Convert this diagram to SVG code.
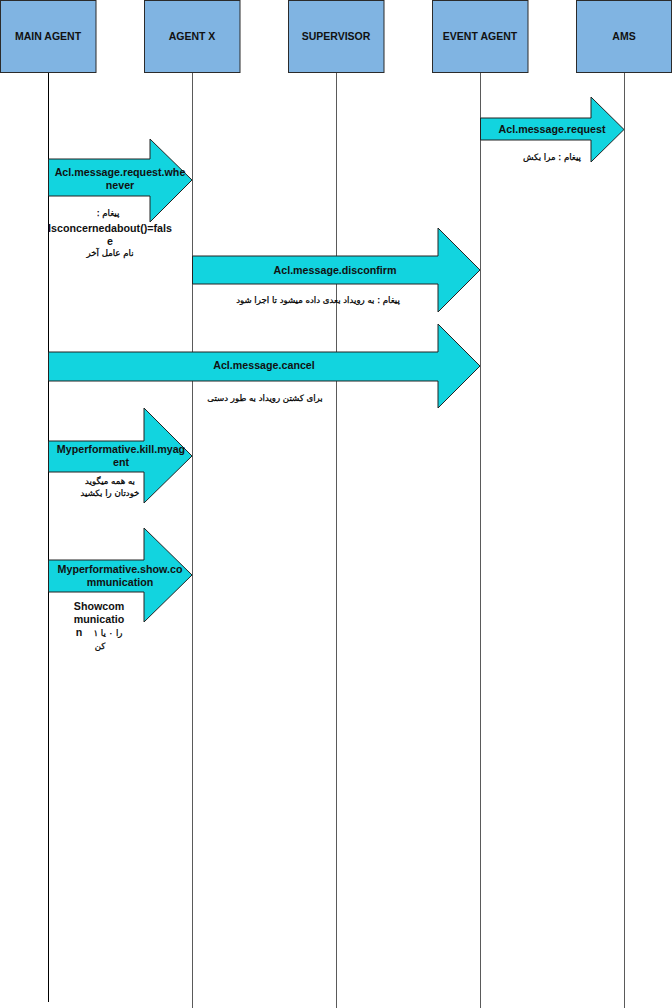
<svg xmlns="http://www.w3.org/2000/svg" width="672" height="1008" viewBox="0 0 672 1008">
  <style>
    .box { fill: #80b4e2; stroke: #2b2b2b; stroke-width: 1; }
    .life { stroke: #5a5a5a; stroke-width: 1; fill: none; }
    .life-main { stroke: #000000; }
    .msg { fill: #12d4df; stroke: #222222; stroke-width: 1; stroke-linejoin: miter; }
    .hdr { font-family: "Liberation Sans", Arial, sans-serif; font-weight: bold; font-size: 10.5px; fill: #111; text-anchor: middle; }
    .lbl { font-family: "Liberation Sans", Arial, sans-serif; font-weight: bold; font-size: 10.7px; fill: #111; text-anchor: middle; }
    .fa { font-family: "DejaVu Sans", "Noto Sans", sans-serif; font-size: 8.6px; fill: #000; stroke: #000; stroke-width: 0.25; text-anchor: middle; direction: rtl; }
  </style>

  <!-- participants -->
  <g id="main-agent">
    <rect class="box" x="0.5" y="0.5" width="95.5" height="72"/>
    <text class="hdr" x="48" y="40">MAIN AGENT</text>
  </g>
  <g id="agent-x">
    <rect class="box" x="144.5" y="0.5" width="95.5" height="72"/>
    <text class="hdr" x="192" y="40">AGENT X</text>
  </g>
  <g id="supervisor">
    <rect class="box" x="288.5" y="0.5" width="95.5" height="72"/>
    <text class="hdr" x="336" y="40">SUPERVISOR</text>
  </g>
  <g id="event-agent">
    <rect class="box" x="432.5" y="0.5" width="95.5" height="72"/>
    <text class="hdr" x="480" y="40">EVENT AGENT</text>
  </g>
  <g id="ams">
    <rect class="box" x="576.5" y="0.5" width="95" height="72"/>
    <text class="hdr" x="624" y="40">AMS</text>
  </g>

  <!-- lifelines -->
  <g id="lifelines">
    <line class="life life-main" x1="48.5" y1="73" x2="48.5" y2="1002"/>
    <line class="life" x1="192.5" y1="73" x2="192.5" y2="1008"/>
    <line class="life" x1="336.5" y1="73" x2="336.5" y2="1008"/>
    <line class="life" x1="480.5" y1="73" x2="480.5" y2="1008"/>
    <line class="life" x1="624.5" y1="73" x2="624.5" y2="1008"/>
  </g>

  <!-- messages (block arrows) -->
  <g id="connectors">
    <polygon class="msg" points="480.5,118 591,118 591,97 624,129.5 591,162 591,140 480.5,140"/>
    <polygon class="msg" points="48.5,159 150,159 150,139 192,180 150,222 150,196 48.5,196"/>
    <polygon class="msg" points="192.5,256 438,256 438,228 480,270 438,312 438,284 192.5,284"/>
    <polygon class="msg" points="48.5,352 438,352 438,324 480,366 438,408 438,381 48.5,381"/>
    <polygon class="msg" points="48.5,441 144,441 144,408 192,456 144,503 144,472 48.5,472"/>
    <polygon class="msg" points="48.5,560 144,560 144,528 192,575 144,622 144,592 48.5,592"/>
  </g>

  <!-- message labels -->
  <g id="msg-request">
    <text class="lbl" x="552" y="133">Acl.message.request</text>
    <text class="fa" x="552" y="160">پیغام : مرا بکش</text>
  </g>
  <g id="msg-request-whenever">
    <text class="lbl" x="120" y="176">Acl.message.request.whe</text>
    <text class="lbl" x="120" y="189">never</text>
    <text class="fa" x="108" y="216">پیغام :</text>
    <text class="lbl" x="110" y="232">Isconcernedabout()=fals</text>
    <text class="lbl" x="110" y="245">e</text>
    <text class="fa" x="110" y="256">نام عامل آخر</text>
  </g>
  <g id="msg-disconfirm">
    <text class="lbl" x="335" y="274">Acl.message.disconfirm</text>
    <text class="fa" x="318" y="303">پیغام : به رویداد بعدی داده میشود تا اجرا شود</text>
  </g>
  <g id="msg-cancel">
    <text class="lbl" x="264" y="369">Acl.message.cancel</text>
    <text class="fa" x="265" y="401">برای کشتن رویداد به طور دستی</text>
  </g>
  <g id="msg-kill">
    <text class="lbl" x="121" y="453">Myperformative.kill.myag</text>
    <text class="lbl" x="121" y="466">ent</text>
    <text class="fa" x="110" y="484">به همه میگوید</text>
    <text class="fa" x="110" y="496">خودتان را بکشید</text>
  </g>
  <g id="msg-show">
    <text class="lbl" x="120" y="573">Myperformative.show.co</text>
    <text class="lbl" x="120" y="586">mmunication</text>
    <text class="lbl" x="99" y="610">Showcom</text>
    <text class="lbl" x="99" y="623">municatio</text>
    <text class="lbl" x="79" y="636">n</text>
    <text class="fa" x="108" y="636">را ۰ یا ۱</text>
    <text class="fa" x="100" y="649">کن</text>
  </g>
</svg>
